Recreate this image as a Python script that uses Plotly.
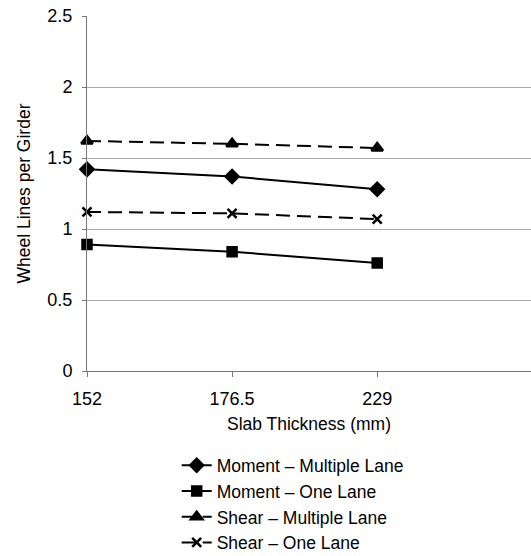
import plotly.graph_objects as go

# Slab thickness categories (mm)
thickness = ["152", "176.5", "229"]

# Wheel lines per girder for each load case
moment_multiple = [1.42, 1.37, 1.28]
moment_one = [0.89, 0.84, 0.76]
shear_multiple = [1.62, 1.60, 1.57]
shear_one = [1.12, 1.11, 1.07]

FONT = "Liberation Sans, Arial, sans-serif"

series = [
    ("Moment \u2013 Multiple Lane", moment_multiple, "solid", "diamond", 10),
    ("Moment \u2013 One Lane", moment_one, "solid", "square", 9),
    ("Shear \u2013 Multiple Lane", shear_multiple, "14px,7px", "triangle-up", 10),
    ("Shear \u2013 One Lane", shear_one, "14px,7px", "x-thin", 9),
]

fig = go.Figure()
for name, vals, dash, symbol, size in series:
    fig.add_trace(go.Scatter(
        x=thickness, y=vals, name=name, mode="lines+markers",
        line=dict(color="black", width=2, dash=dash),
        marker=dict(symbol=symbol, size=size, color="black",
                    line=dict(color="black", width=2.5)),
        cliponaxis=False,
    ))

fig.update_layout(
    width=531, height=556,
    margin=dict(l=87, r=0, t=16, b=185, autoexpand=False),
    paper_bgcolor="white", plot_bgcolor="white",
    font=dict(family=FONT, size=17, color="black"),
    showlegend=True,
    legend=dict(x=0.202, y=-0.215, xanchor="left", yanchor="top",
                font=dict(size=17.5), bgcolor="rgba(0,0,0,0)",
                tracegroupgap=0, itemwidth=30),
    xaxis=dict(
        type="category", range=[0, 3.06],
        showgrid=False, zeroline=False, automargin=False,
        showline=True, linecolor="#777", linewidth=1,
        ticks="outside", ticklen=5, tickcolor="#777",
        ticklabelstandoff=6,
        tickfont=dict(size=18),
        title=dict(text="Slab Thickness (mm)", font=dict(size=17.5), standoff=10),
    ),
    yaxis=dict(
        range=[0, 2.5], dtick=0.5, tickformat="~g",
        showgrid=True, gridcolor="#aaa", gridwidth=1,
        zeroline=False, automargin=False,
        showline=True, linecolor="#777", linewidth=1,
        ticks="outside", ticklen=4, tickcolor="#777",
        ticklabelstandoff=6,
        tickfont=dict(size=18),
        title=dict(text="Wheel Lines per Girder", font=dict(size=17.5), standoff=12),
    ),
)

fig.write_html("out.html")
